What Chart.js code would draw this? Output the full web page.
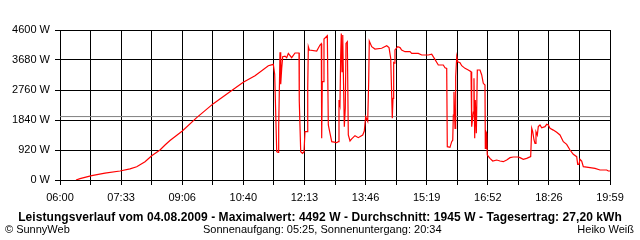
<!DOCTYPE html>
<html><head><meta charset="utf-8">
<script src="https://cdn.jsdelivr.net/npm/chart.js@4.4.1/dist/chart.umd.min.js"></script>
<style>
html,body{margin:0;padding:0;background:#fff;}
#wrap{position:relative;width:640px;height:240px;overflow:hidden;font-family:"Liberation Sans",Arial,sans-serif;background:#fff;}
canvas{position:absolute;left:0;top:0;}
.t{position:absolute;white-space:nowrap;font-size:11px;line-height:12px;color:#000;}
</style></head><body>
<div id="wrap">
<canvas id="c" width="640" height="240"></canvas>
<div class="t" id="title" style="left:0;width:640px;text-align:center;top:211px;font-weight:bold;font-size:12px;letter-spacing:0.07px;">Leistungsverlauf vom 04.08.2009 - Maximalwert: 4492 W - Durchschnitt: 1945 W - Tagesertrag: 27,20 kWh</div>
<div class="t" style="left:5px;top:223px;">© SunnyWeb</div>
<div class="t" style="left:203px;top:223px;">Sonnenaufgang: 05:25, Sonnenuntergang: 20:34</div>
<div class="t" style="right:6px;top:223px;">Heiko Weiß</div>
</div>
<script>
// time of day in minutes since midnight
const minutes = [384.4,390.5,408.4,428.6,451.5,466.8,477.0,489.7,499.9,512.5,520.2,527.8,546.6,568.5,593.9,619.3,639.6,657.5,677.8,685.4,
687.5,690.6,692.6,693.6,695.6,696.7,698.2,699.7,703.2,705.8,708.3,713.4,718.5,724.6,725.0,727.2,729.9,732.2,733.7,737.2,
737.9,738.8,740.3,751.6,756.6,758.6,759.2,760.1,761.7,762.7,767.8,769.3,771.9,774.5,782.1,784.5,785.6,787.1,788.2,789.1,
790.2,791.3,792.2,793.7,795.2,796.3,798.3,799.8,802.4,805.0,810.0,815.0,821.8,824.2,826.3,829.4,830.9,831.8,835.5,840.5,
850.7,858.4,861.9,864.5,866.9,868.0,869.0,870.0,871.0,875.2,878.7,881.2,886.3,893.9,896.5,906.6,911.8,921.8,927.0,931.0,
937.1,944.7,947.3,949.9,950.8,954.9,957.5,959.1,960.0,961.0,962.6,963.6,965.2,966.7,970.2,972.8,977.8,982.8,987.0,988.0,
990.5,991.5,992.6,993.5,995.1,996.6,1000.7,1003.3,1005.7,1008.3,1008.8,1009.8,1010.9,1011.8,1015.9,1020.1,1026.2,1031.2,1036.2,1041.4,
1046.5,1051.5,1059.1,1061.7,1066.7,1071.9,1074.4,1078.0,1079.6,1081.1,1083.1,1084.6,1086.1,1088.1,1089.6,1092.2,1094.8,1099.8,1102.4,1104.9,
1107.5,1112.5,1117.7,1122.7,1127.8,1132.9,1138.0,1143.0,1148.2,1149.7,1151.7,1153.2,1155.8,1158.3,1168.5,1176.1,1183.8,1194.0,1196.4,1199.0];
// AC power in W
const watts = [0,40,132,210,276,340,408,560,745,920,1073,1210,1503,1912,2341,2709,2995,3199,3505,3546,
3240,868,849,1636,3915,2934,3424,3782,3800,3752,3884,3752,3894,3894,2423,868,818,860,1482,1482,
2811,4088,3987,3956,4140,4180,1278,3016,3016,4324,4425,1687,1431,1175,1145,1175,2453,2300,3833,4492,
3322,4447,3322,1636,2200,4191,4242,1380,1196,1260,1359,1298,1380,1503,1942,1800,3016,4263,4088,4017,
4040,4119,4060,3731,1892,2505,3600,3580,3987,4088,4060,3987,3935,3935,3884,3884,3833,3833,3860,3731,
3527,3527,3444,3424,1022,1000,1175,1220,1993,2709,1580,3168,3782,3628,3600,3505,3424,3373,3322,1636,
2080,3117,1278,2453,1431,3373,3373,3220,2965,2913,972,1482,1430,767,664,583,613,583,562,613,
685,705,705,685,634,664,685,716,1584,1480,1227,1124,1480,1380,1636,1687,1600,1636,1708,1687,
1584,1530,1462,1380,1175,1094,920,787,716,481,481,634,583,409,378,358,307,307,276,276];
const tickLabels = ['06:00','07:33','09:06','10:40','12:13','13:46','15:19','16:52','18:26','19:59'];
const startMin = 360, endMin = 1199;
const avgW = 1945;
const yMax = 4600, yStep = 920;

const fontFam = '"Liberation Sans", Arial, sans-serif';
new Chart(document.getElementById('c'), {
  type: 'line',
  data: {
    datasets: [
      { data: minutes.map((m, i) => ({ x: m, y: watts[i] })), borderColor: '#ff0000', borderWidth: 1.2, pointRadius: 0, tension: 0, fill: false },
      { data: [{ x: startMin, y: avgW }, { x: endMin, y: avgW }], borderColor: '#808080', borderWidth: 1, pointRadius: 0, fill: false }
    ]
  },
  options: {
    responsive: false, animation: false, events: [],
    layout: { padding: { top: 30, right: 30, left: 0, bottom: 0 } },
    plugins: { legend: { display: false }, tooltip: { enabled: false }, title: { display: false } },
    scales: {
      x: {
        type: 'linear', min: startMin, max: endMin,
        afterBuildTicks(s) { s.ticks = []; for (let i = 0; i <= 18; i++) s.ticks.push({ value: startMin + i * (endMin - startMin) / 18 }); },
        ticks: { autoSkip: false, maxRotation: 0, padding: 6, color: '#000', font: { family: fontFam, size: 11 },
          callback: (v, i) => (i % 2 === 0 ? tickLabels[i / 2] : '') },
        grid: { color: '#000', lineWidth: 1, tickLength: 5, drawTicks: true },
        border: { color: '#000', width: 1 },
        afterFit(s) { s.height = 60; }
      },
      y: {
        min: 0, max: yMax,
        ticks: { stepSize: yStep, padding: 5, color: '#000', font: { family: fontFam, size: 11 }, callback: v => v + ' W' },
        grid: { color: '#000', lineWidth: 1, tickLength: 5, drawTicks: true },
        border: { color: '#000', width: 1 },
        afterFit(s) { s.width = 60; }
      }
    }
  }
});
</script>
</body></html>
